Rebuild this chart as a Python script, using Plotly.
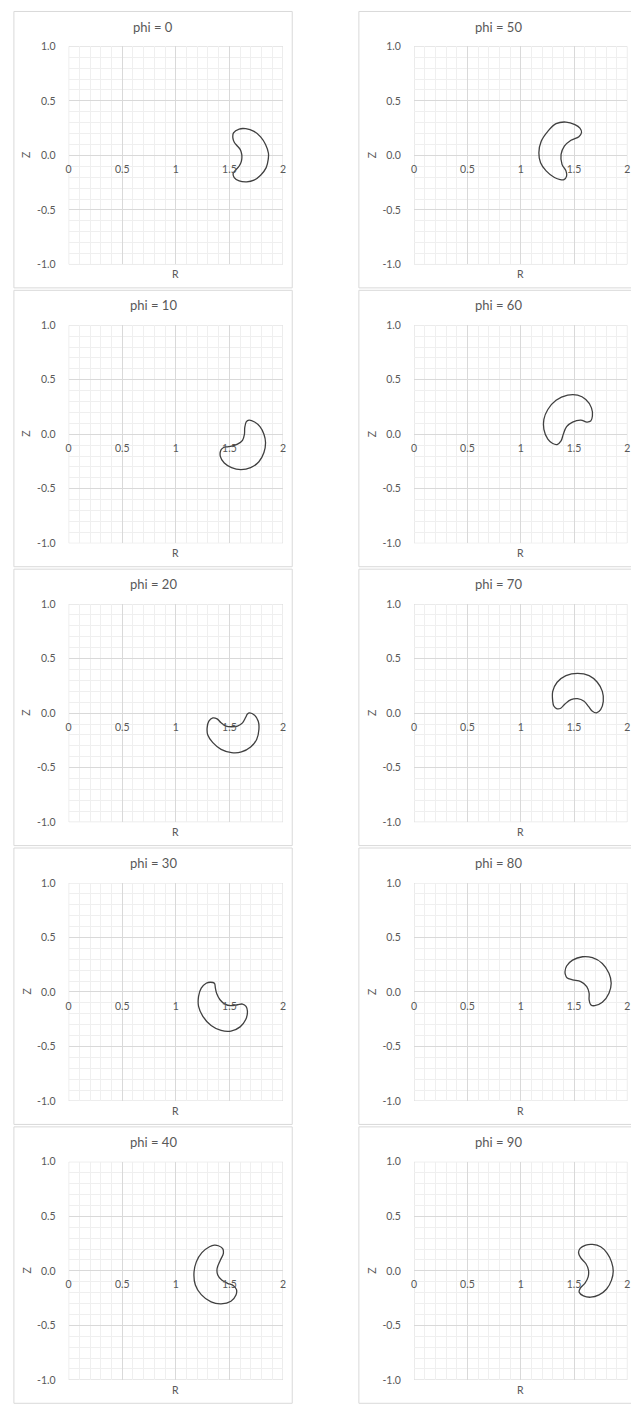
import plotly.graph_objects as go

# Poloidal cross-sections (R, Z) of the flux surface at toroidal angles phi
phi_values = [0, 10, 20, 30, 40, 50, 60, 70, 80, 90]

r00 = [1.864, 1.862, 1.843, 1.791, 1.729, 1.662, 1.591, 1.545, 1.535, 1.560, 1.591, 1.612,
       1.615, 1.600, 1.569, 1.545, 1.532, 1.538, 1.591, 1.652, 1.729, 1.791, 1.837]
z00 = [0.020, -0.036, -0.112, -0.182, -0.227, -0.242, -0.233, -0.203, -0.164, -0.133, -0.097, -0.052,
       0.009, 0.055, 0.091, 0.121, 0.161, 0.206, 0.242, 0.245, 0.221, 0.170, 0.100]

r10 = [1.822, 1.837, 1.822, 1.775, 1.698, 1.606, 1.520, 1.452, 1.415, 1.422, 1.446, 1.480,
       1.520, 1.575, 1.622, 1.640, 1.643, 1.658, 1.683, 1.735, 1.785]
z10 = [0.000, -0.076, -0.167, -0.252, -0.306, -0.324, -0.306, -0.264, -0.203, -0.142, -0.121, -0.115,
       -0.109, -0.091, -0.055, 0.000, 0.061, 0.115, 0.130, 0.112, 0.070]

r20 = [1.520, 1.422, 1.345, 1.298, 1.292, 1.308, 1.345, 1.385, 1.422, 1.468, 1.520, 1.575,
       1.622, 1.652, 1.668, 1.689, 1.735, 1.769, 1.775, 1.754, 1.698, 1.612]
z20 = [-0.362, -0.332, -0.271, -0.201, -0.135, -0.074, -0.044, -0.053, -0.089, -0.119, -0.125, -0.119,
       -0.089, -0.038, -0.008, 0.002, -0.020, -0.074, -0.150, -0.241, -0.311, -0.356]

r30 = [1.514, 1.422, 1.329, 1.252, 1.212, 1.212, 1.237, 1.283, 1.323, 1.360, 1.369, 1.382,
       1.412, 1.458, 1.514, 1.575, 1.622, 1.655, 1.668, 1.652, 1.600]
z30 = [-0.359, -0.353, -0.308, -0.223, -0.132, -0.041, 0.035, 0.080, 0.089, 0.080, 0.035, -0.017,
       -0.071, -0.111, -0.126, -0.117, -0.111, -0.132, -0.177, -0.253, -0.320]

r40 = [1.169, 1.191, 1.243, 1.314, 1.360, 1.397, 1.437, 1.443, 1.415, 1.385, 1.391, 1.428,
       1.483, 1.538, 1.566, 1.560, 1.514, 1.422, 1.329, 1.237, 1.182]
z40 = [-0.024, 0.082, 0.167, 0.221, 0.236, 0.230, 0.203, 0.158, 0.097, 0.021, -0.039, -0.085,
       -0.115, -0.136, -0.173, -0.224, -0.279, -0.303, -0.285, -0.218, -0.130]

r50 = [1.170, 1.192, 1.254, 1.331, 1.424, 1.508, 1.555, 1.570, 1.545, 1.471, 1.409, 1.378,
       1.387, 1.424, 1.430, 1.405, 1.370, 1.316, 1.238, 1.186]
z50 = [0.024, 0.130, 0.221, 0.291, 0.306, 0.282, 0.250, 0.210, 0.172, 0.139, 0.085, 0.009,
       -0.082, -0.142, -0.190, -0.222, -0.222, -0.203, -0.142, -0.067]

r60 = [1.440, 1.533, 1.610, 1.663, 1.672, 1.656, 1.620, 1.563, 1.486, 1.430, 1.399, 1.378,
       1.341, 1.300, 1.254, 1.217, 1.217, 1.254, 1.331]
z60 = [0.358, 0.358, 0.318, 0.242, 0.167, 0.121, 0.112, 0.130, 0.112, 0.070, 0.000, -0.061,
       -0.094, -0.085, -0.045, 0.045, 0.136, 0.227, 0.312]

r70 = [1.533, 1.424, 1.341, 1.300, 1.300, 1.310, 1.340, 1.375, 1.415, 1.471, 1.533, 1.594,
       1.635, 1.672, 1.709, 1.749, 1.774, 1.765, 1.718, 1.641]
z70 = [0.365, 0.344, 0.283, 0.199, 0.108, 0.065, 0.040, 0.045, 0.084, 0.123, 0.132, 0.108,
       0.062, 0.017, 0.002, 0.032, 0.108, 0.199, 0.283, 0.344]

r80 = [1.848, 1.827, 1.765, 1.672, 1.579, 1.486, 1.430, 1.415, 1.418, 1.433, 1.486, 1.563,
       1.619, 1.641, 1.641, 1.656, 1.693, 1.765, 1.827]
z80 = [0.080, 0.171, 0.262, 0.314, 0.323, 0.292, 0.238, 0.186, 0.161, 0.130, 0.111, 0.095,
       0.050, -0.011, -0.071, -0.117, -0.126, -0.095, -0.011]

r90 = [1.867, 1.851, 1.805, 1.734, 1.656, 1.588, 1.548, 1.557, 1.601, 1.632, 1.635, 1.610,
       1.563, 1.542, 1.557, 1.610, 1.672, 1.749, 1.811, 1.851]
z90 = [-0.003, -0.085, -0.167, -0.221, -0.242, -0.230, -0.197, -0.161, -0.115, -0.055, 0.006, 0.067,
       0.118, 0.167, 0.206, 0.236, 0.242, 0.221, 0.161, 0.082]

x_tickvals = [0, 0.5, 1, 1.5, 2]
x_ticktext = ["0", "0.5", "1", "1.5", "2"]
y_tickvals = [-1, -0.5, 0, 0.5, 1]
y_ticktext = ["-1.0", "-0.5", "0.0", "0.5", "1.0"]
r_range = [0, 2]
z_range = [-1, 1]

sections = [r00, r10, r20, r30, r40, r50, r60, r70, r80, r90]
heights = [z00, z10, z20, z30, z40, z50, z60, z70, z80, z90]

# ---- page geometry (pixels) ----
W, H = 631, 1408
ROW_STEP = 281.25
COL_PLOT = [(66.3, 282.7), (415.0, 630.4)]   # plot-area left/right per column
COL_BOX = [(11.0, 292.0), (359.3, 640.3)]    # chart frame left/right per column
PLOT_TOP, PLOT_BOT = 40.7, 260.7             # top / bottom of the plot area, first row
BOX_TOP, BOX_BOT = 5.5, 284.3

TEXT = "#595959"
GRID_MAJOR = "#d9d9d9"
GRID_MINOR = "#efefef"
FONT = "Lato, 'Open Sans', sans-serif"


def px(x):
    return x / W


def py(y):
    return 1 - y / H


fig = go.Figure()
shapes = []
annotations = []

for i, phi in enumerate(phi_values):
    col, row = divmod(i, 5)
    n = "" if i == 0 else str(i + 1)
    off = row * ROW_STEP
    xl, xr = COL_PLOT[col]
    top, bot = PLOT_TOP + off, PLOT_BOT + off
    zero_y = (top + bot) / 2

    r = sections[i] + sections[i][:1]
    z = heights[i] + heights[i][:1]
    fig.add_trace(go.Scatter(
        x=r, y=z, mode="lines", xaxis="x" + n, yaxis="y" + n,
        line=dict(color="#404040", width=1.3, shape="spline", smoothing=1.0),
        hoverinfo="skip", showlegend=False))

    fig.layout["xaxis" + n] = dict(
        domain=[px(xl), px(xr)], range=r_range, anchor="free", position=py(zero_y),
        tickvals=x_tickvals, ticktext=x_ticktext, ticks="outside", ticklen=4,
        tickcolor="rgba(0,0,0,0)", tickfont=dict(size=10.5, color=TEXT, family=FONT),
        ticklabeloverflow="allow",
        showgrid=True, gridcolor=GRID_MAJOR, gridwidth=1, zeroline=False, showline=False,
        minor=dict(dtick=0.1, tick0=0, showgrid=True, gridcolor=GRID_MINOR, gridwidth=1),
        fixedrange=True)
    fig.layout["yaxis" + n] = dict(
        domain=[py(bot), py(top)], range=z_range, anchor="x" + n,
        tickvals=y_tickvals, ticktext=y_ticktext, ticks="outside", ticklen=10,
        tickcolor="rgba(0,0,0,0)", tickfont=dict(size=10.5, color=TEXT, family=FONT),
        showgrid=True, gridcolor=GRID_MAJOR, gridwidth=1,
        zeroline=True, zerolinecolor=GRID_MAJOR, zerolinewidth=1, showline=False,
        minor=dict(dtick=0.1, tick0=0, showgrid=True, gridcolor=GRID_MINOR, gridwidth=1),
        fixedrange=True)

    # plot-area edge lines (grid at the range limits)
    shapes.append(dict(type="rect", xref="x" + n, yref="y" + n,
                       x0=r_range[0], x1=r_range[1], y0=z_range[0], y1=z_range[1],
                       line=dict(color=GRID_MAJOR, width=1), fillcolor="rgba(0,0,0,0)",
                       layer="below"))

    # chart frame
    bl, br = COL_BOX[col]
    shapes.append(dict(type="rect", xref="paper", yref="paper",
                       x0=px(bl), x1=px(br), y0=py(BOX_BOT + off), y1=py(BOX_TOP + off),
                       line=dict(color=GRID_MAJOR, width=1), fillcolor="rgba(0,0,0,0)",
                       layer="below"))

    annotations.append(dict(text=f"phi = {phi}", xref="paper", yref="paper",
                            x=px((bl + br) / 2), y=py(20.7 + off), showarrow=False,
                            xanchor="center", yanchor="middle",
                            font=dict(size=13, color=TEXT, family=FONT)))
    annotations.append(dict(text="R", xref="paper", yref="paper",
                            x=px((xl + xr) / 2), y=py(270.7 + off), showarrow=False,
                            xanchor="center", yanchor="middle",
                            font=dict(size=10.5, color=TEXT, family=FONT)))
    annotations.append(dict(text="Z", xref="paper", yref="paper", textangle=-90,
                            x=px(xl - 42.5), y=py(zero_y), showarrow=False,
                            xanchor="center", yanchor="middle",
                            font=dict(size=10.5, color=TEXT, family=FONT)))

fig.update_layout(
    width=W, height=H, margin=dict(l=0, r=0, t=0, b=0),
    paper_bgcolor="white", plot_bgcolor="white",
    shapes=shapes, annotations=annotations, showlegend=False)

fig.write_html("out.html")
